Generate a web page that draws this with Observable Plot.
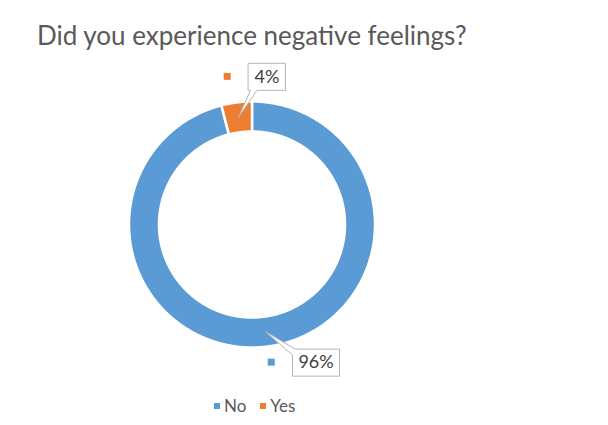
<!DOCTYPE html>
<html>
<head>
<meta charset="utf-8">
<script src="https://cdn.jsdelivr.net/npm/d3@7"></script>
<script src="https://cdn.jsdelivr.net/npm/@observablehq/plot@0.6"></script>
<style>
  body { margin: 0; background: #fff; font-family: Lato, "Open Sans", sans-serif; }
  #chart { position: relative; width: 608px; height: 425px; overflow: hidden; background: #fff; }
  #title { position: absolute; left: 37px; top: 22px; font-size: 26px; line-height: 1; color: #595959; white-space: nowrap; }
  #plot { position: absolute; left: 0; top: 58px; }
  #legend { position: absolute; left: 214px; top: 389px; }
  .lg-swatches { margin: 0 !important; }
  .lg-swatch { margin-right: 14px !important; }
  .lg-swatch > svg { margin-right: 4px !important; }
</style>
</head>
<body>
<div id="chart">
  <div id="title">Did you experience negative feelings?</div>
  <div id="plot"></div>
  <div id="legend"></div>
</div>
<script>
// Survey answers and their shares (percent)
const categories = ["No", "Yes"];
const values = [96, 4];
const colors = ["#5B9BD5", "#ED7D31"];

// Layout of the doughnut and its callout labels (pixels)
const W = 608, H = 330;
const cx = 251.5, cy = 166;          // ring centre inside the svg
const outerR = 123, innerR = 93;
const calloutOffset = { No: [50.5, -31], Yes: [28.5, 40.5] }; // box centre relative to the anchor
const boxH = 27, boxPad = 6;
const labelSize = 18;
const fontFamily = "Lato, 'Open Sans', sans-serif";

// Slice angles: start at 12 o'clock, clockwise, keep the given order
const arcs = d3.pie().sort(null).value(d => d.value)(
  categories.map((key, i) => ({ key, value: values[i] }))
);

const polar = (r, a) => ({ x: r * Math.sin(a), y: r * Math.cos(a) });

// Ring segments as closed outlines
const ringPts = [];
for (const a of arcs) {
  const n = Math.max(2, Math.ceil((a.endAngle - a.startAngle) / (Math.PI / 360)) + 1);
  const ts = d3.range(n).map(i => a.startAngle + (a.endAngle - a.startAngle) * i / (n - 1));
  for (const t of ts) ringPts.push({ key: a.data.key, ...polar(outerR, t) });
  for (const t of ts.slice().reverse()) ringPts.push({ key: a.data.key, ...polar(innerR, t) });
}

// Text measuring for box widths
const ctx = document.createElement("canvas").getContext("2d");
ctx.font = `${labelSize}px ${fontFamily}`;

const labels = arcs.map(a => {
  const mid = (a.startAngle + a.endAngle) / 2;
  const anchor = polar((outerR + innerR) / 2, mid);
  const [dx, dy] = calloutOffset[a.data.key];
  const text = `${a.data.value}%`;
  const w = Math.round(ctx.measureText(text).width) + 2 * boxPad;
  return { key: a.data.key, text, anchor, x: anchor.x + dx, y: anchor.y + dy, w };
});

// Callout shapes: rectangle plus a wedge pointing at the slice
const calloutPts = [];
for (const l of labels) {
  const L = l.x - l.w / 2, R = l.x + l.w / 2, T = l.y + boxH / 2, B = l.y - boxH / 2;
  let pts;
  if (l.anchor.y > 0) {
    // wedge leaves the bottom edge
    pts = [[L, T], [R, T], [R, B], [L + 8.5, B], [l.anchor.x, l.anchor.y], [L + 2, B], [L, B]];
  } else {
    // wedge leaves the top-left corner
    pts = [[L + 3, T], [R, T], [R, B], [L, B], [L, T - 6], [l.anchor.x, l.anchor.y]];
  }
  for (const [x, y] of pts) calloutPts.push({ key: l.key, x, y });
}

// Legend keys shown beside each label
const keySize = 7;
const keys = labels.map(l => {
  const kx = l.x - l.w / 2 - 17.3 - keySize / 2;
  return { key: l.key, x1: kx - keySize / 2, x2: kx + keySize / 2, y1: l.y - keySize / 2, y2: l.y + keySize / 2 };
});

const chart = Plot.plot({
  width: W,
  height: H,
  margin: 0,
  x: { domain: [-cx, W - cx], axis: null },
  y: { domain: [-(H - cy), cy], axis: null },
  color: { domain: categories, range: colors },
  style: { fontFamily, background: "#fff", overflow: "visible" },
  marks: [
    Plot.line(ringPts, { x: "x", y: "y", z: "key", fill: "key", stroke: "white", strokeWidth: 2.5, curve: "linear-closed" }),
    Plot.line(calloutPts, { x: "x", y: "y", z: "key", fill: "white", stroke: "#b5b5b5", strokeWidth: 1, curve: "linear-closed" }),
    Plot.text(labels, { x: "x", y: "y", text: "text", fontSize: labelSize, fill: "#404040", fontFamily }),
    Plot.rect(keys, { x1: "x1", x2: "x2", y1: "y1", y2: "y2", fill: "key" })
  ]
});
document.getElementById("plot").appendChild(chart);

const legend = Plot.legend({
  color: { type: "ordinal", domain: categories, range: colors },
  legend: "swatches",
  swatchSize: 6,
  className: "lg",
  style: { fontFamily, fontSize: "17px", color: "#595959" }
});
document.getElementById("legend").appendChild(legend);
</script>
</body>
</html>
